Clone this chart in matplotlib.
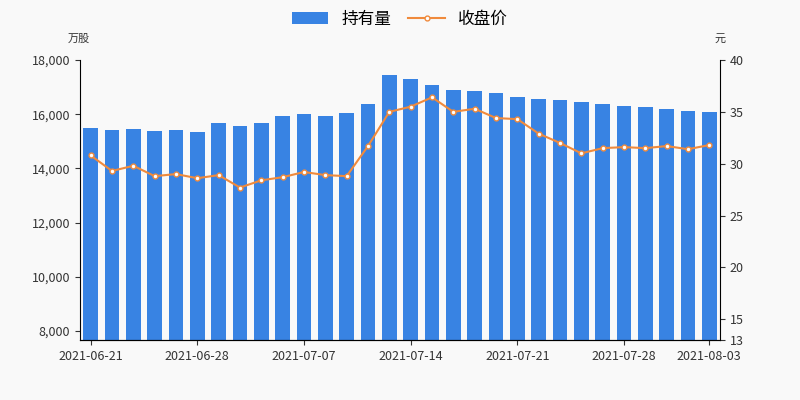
import matplotlib.pyplot as plt
import numpy as np

plt.rcParams['font.family'] = ['Noto Sans CJK SC', 'DejaVu Sans']

dates = ["2021-06-21", "2021-06-22", "2021-06-23", "2021-06-24", "2021-06-25",
         "2021-06-28", "2021-06-29", "2021-06-30", "2021-07-05", "2021-07-06",
         "2021-07-07", "2021-07-08", "2021-07-09", "2021-07-12", "2021-07-13",
         "2021-07-14", "2021-07-15", "2021-07-16", "2021-07-19", "2021-07-20",
         "2021-07-21", "2021-07-22", "2021-07-23", "2021-07-26", "2021-07-27",
         "2021-07-28", "2021-07-29", "2021-07-30", "2021-08-02", "2021-08-03"]
holdings = [15490, 15420, 15450, 15390, 15420, 15350, 15680, 15570, 15680, 15930,
            16000, 15950, 16040, 16380, 17450, 17300, 17080, 16900, 16860, 16790,
            16630, 16560, 16520, 16450, 16380, 16300, 16270, 16190, 16120, 16080]
close = [30.8, 29.3, 29.8, 28.8, 29.0, 28.6, 28.9, 27.7, 28.4, 28.7,
         29.2, 28.9, 28.8, 31.7, 35.0, 35.5, 36.4, 35.0, 35.3, 34.4,
         34.3, 32.9, 32.0, 31.0, 31.5, 31.6, 31.5, 31.7, 31.4, 31.8]
tick_idx = [0, 5, 10, 15, 20, 25, 29]

fig = plt.figure(figsize=(8, 4), dpi=100, facecolor='#f9f9f9')
ax = fig.add_axes([0.1, 0.15, 0.8, 0.7])
ax.set_facecolor('#f9f9f9')
x = np.arange(len(dates))
ax.bar(x, holdings, width=0.7, color='#3883e3', label='持有量')
ax.set_ylim(7670, 18000)
ax.set_yticks(range(8000, 18001, 2000))
ax.yaxis.set_major_formatter(plt.FuncFormatter(lambda v, p: f'{int(v):,}'))
ax.set_xlim(-0.5, len(dates) - 0.5)
ax.set_xticks(tick_idx)
ax.set_xticklabels([dates[i] for i in tick_idx])
for s in ['top', 'right']:
    ax.spines[s].set_visible(False)
ax.tick_params(labelsize=9, colors='#333333')

ax2 = ax.twinx()
ax2.plot(x, close, color='#f08a3c', lw=1.5, marker='o', ms=3.5,
         mfc='white', mec='#f08a3c', label='收盘价')
ax2.set_ylim(13, 40)
ax2.set_yticks([13, 15, 20, 25, 30, 35, 40])
for s in ['top', 'left']:
    ax2.spines[s].set_visible(False)
ax2.tick_params(labelsize=9, colors='#333333')

fig.text(0.085, 0.895, '万股', fontsize=8, color='#333333')
fig.text(0.893, 0.895, '元', fontsize=8, color='#333333')
h1, l1 = ax.get_legend_handles_labels()
h2, l2 = ax2.get_legend_handles_labels()
fig.legend(h1 + h2, l1 + l2, loc='upper center', ncol=2, frameon=False,
           fontsize=12, bbox_to_anchor=(0.5, 1.01), handlelength=2.2, columnspacing=1)
fig.savefig('out.png', facecolor=fig.get_facecolor())
